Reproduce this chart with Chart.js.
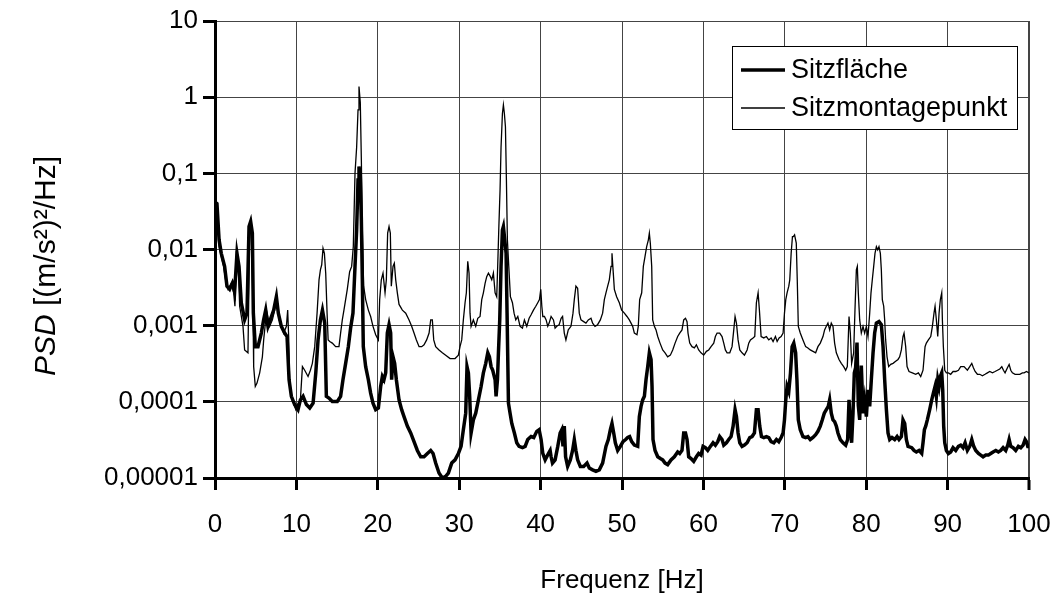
<!DOCTYPE html>
<html>
<head>
<meta charset="utf-8">
<script src="https://cdn.jsdelivr.net/npm/chart.js@4.4.1/dist/chart.umd.min.js"></script>
<style>
  body { margin: 0; background: #fff; }
  #wrap { width: 1059px; height: 602px; }
</style>
</head>
<body>
<div id="wrap"><canvas id="psd" width="1059" height="602"></canvas></div>
<script>
// Sitzfläche (dicke Linie)
const freqSitz = [
  0, 0.24, 0.5, 0.77, 1.18, 1.47, 1.8, 2.13, 2.41, 2.7, 2.95, 3.23, 3.64, 3.93, 4.18, 4.38, 4.59, 4.71, 4.95, 5.28,
  5.69, 5.98, 6.23, 6.51, 6.8, 7.21, 7.54, 7.78, 8.15, 8.56, 8.85, 9.1, 9.38, 9.79, 10.2, 10.49, 10.82, 11.23, 11.64, 12.05,
  12.38, 12.66, 12.95, 13.2, 13.48, 13.68, 14.0, 14.41, 15.02, 15.43, 15.72, 16.05, 16.38, 16.66, 16.95, 17.2, 17.4, 17.57, 17.69, 17.85,
  17.98, 18.1, 18.22, 18.51, 18.84, 19.12, 19.41, 19.74, 20.07, 20.35, 20.56, 20.76, 20.97, 21.17, 21.38, 21.58, 21.7, 21.87, 22.07, 22.28,
  22.61, 22.93, 23.22, 23.63, 24.04, 24.45, 24.86, 25.27, 25.68, 26.09, 26.5, 26.79, 27.11, 27.52, 27.93, 28.34, 28.67, 29.08, 29.49, 29.9,
  30.23, 30.51, 30.8, 30.96, 31.13, 31.29, 31.46, 31.74, 32.03, 32.36, 32.69, 32.97, 33.26, 33.51, 33.71, 33.92, 34.12, 34.41, 34.53, 34.7,
  34.82, 34.98, 35.14, 35.31, 35.43, 35.6, 35.76, 35.88, 36.05, 36.25, 36.46, 36.78, 37.07, 37.36, 37.77, 38.1, 38.42, 38.83, 39.16, 39.53,
  39.82, 40.06, 40.27, 40.56, 40.76, 40.96, 41.17, 41.29, 41.46, 41.78, 42.11, 42.4, 42.6, 42.75, 42.91, 43.07, 43.32, 43.65, 43.93, 44.14,
  44.34, 44.55, 44.88, 45.29, 45.7, 45.98, 46.39, 46.8, 47.21, 47.62, 48.03, 48.32, 48.57, 48.77, 48.98, 49.18, 49.47, 49.8, 50.12, 50.45,
  50.7, 50.94, 51.19, 51.52, 51.93, 52.13, 52.34, 52.54, 52.75, 52.95, 53.16, 53.36, 53.57, 53.69, 53.81, 54.06, 54.39, 54.71, 55.0, 55.29,
  55.61, 56.02, 56.43, 56.84, 57.09, 57.37, 57.58, 57.8, 57.99, 58.19, 58.48, 58.81, 59.14, 59.42, 59.71, 59.96, 60.24, 60.53, 60.86, 61.19,
  61.47, 61.76, 62.0, 62.29, 62.5, 62.83, 63.11, 63.4, 63.65, 63.89, 64.06, 64.26, 64.47, 64.75, 65.04, 65.37, 65.7, 65.98, 66.27, 66.51,
  66.72, 66.92, 67.13, 67.42, 67.74, 68.03, 68.32, 68.65, 68.97, 69.26, 69.55, 69.79, 69.96, 70.12, 70.28, 70.49, 70.7, 70.9, 71.1, 71.33,
  71.49, 71.66, 71.9, 72.23, 72.56, 72.84, 73.13, 73.46, 73.79, 74.07, 74.36, 74.61, 74.85, 75.1, 75.34, 75.51, 75.71, 75.92, 76.12, 76.33,
  76.53, 76.82, 77.15, 77.48, 77.72, 77.89, 78.05, 78.21, 78.38, 78.54, 78.7, 78.87, 79.03, 79.2, 79.4, 79.61, 79.81, 80.02, 80.22, 80.43,
  80.63, 80.84, 81.04, 81.25, 81.57, 81.86, 82.07, 82.27, 82.48, 82.68, 82.89, 83.17, 83.5, 83.79, 84.03, 84.32, 84.52, 84.73, 84.93, 85.14,
  85.59, 85.87, 86.16, 86.49, 86.82, 86.98, 87.15, 87.31, 87.51, 87.8, 88.05, 88.25, 88.46, 88.62, 88.79, 88.95, 89.11, 89.28, 89.4, 89.52,
  89.65, 89.85, 90.1, 90.38, 90.67, 91.0, 91.33, 91.61, 91.9, 92.15, 92.43, 92.72, 92.97, 93.21, 93.46, 93.79, 94.07, 94.36, 94.69, 95.01,
  95.3, 95.59, 95.92, 96.24, 96.53, 96.82, 97.14, 97.39, 97.56, 97.76, 98.05, 98.37, 98.7, 98.99, 99.28, 99.52, 99.69, 99.85, 100
];
const psdSitz = [
  0.042, 0.040, 0.0134, 0.0089, 0.0060, 0.0033, 0.0030, 0.0036, 0.0028, 0.0089, 0.0060, 0.0020, 0.0012, 0.00146, 0.020, 0.0233, 0.0164, 0.00146, 0.00053, 0.00053,
  0.0008, 0.0012, 0.0016, 0.00098, 0.0012, 0.0016, 0.0024, 0.00146, 0.00098, 0.0008, 0.00072, 0.000195, 0.000118, 0.000092, 0.000079, 0.000106, 0.000118, 0.000092, 0.000083, 0.000096,
  0.00024, 0.00065, 0.00119, 0.0016, 0.00108, 0.000118, 0.000112, 0.000101, 0.000101, 0.000118, 0.000195, 0.00032, 0.00053, 0.00093, 0.00146, 0.006, 0.018, 0.082, 0.123, 0.091,
  0.0245, 0.004, 0.00053, 0.00029, 0.000195, 0.00013, 0.000096, 0.000079, 0.000083, 0.000159, 0.000215, 0.000195, 0.00024, 0.0008, 0.00103, 0.0008, 0.000195, 0.00039, 0.00032, 0.000195,
  0.000106, 0.000079, 0.000064, 0.000048, 0.000039, 0.00003, 0.000023, 0.000019, 0.000019, 0.000021, 0.000023, 0.000021, 0.0000157, 0.0000116, 0.00001, 0.0000105, 0.0000116, 0.0000157, 0.0000173, 0.000021,
  0.000026, 0.000043, 0.000071, 0.00029, 0.00024, 0.000118, 0.000039, 0.000058, 0.000071, 0.000106, 0.000159, 0.00024, 0.00032, 0.00044, 0.00039, 0.00029, 0.00026, 0.000195, 0.000118, 0.000195,
  0.00044, 0.00119, 0.006, 0.018, 0.020, 0.0134, 0.0089, 0.00146, 0.000096, 0.000071, 0.000052, 0.000039, 0.000029, 0.000026, 0.000025, 0.000026, 0.000032, 0.000035, 0.000034, 0.000041,
  0.000043, 0.000032, 0.000021, 0.0000173, 0.000019, 0.000021, 0.000023, 0.000019, 0.0000157, 0.0000173, 0.000026, 0.000039, 0.000043, 0.000026, 0.000048, 0.000019, 0.0000142, 0.0000173, 0.000023, 0.000032,
  0.000023, 0.0000173, 0.0000142, 0.0000142, 0.0000157, 0.0000135, 0.0000128, 0.0000122, 0.0000128, 0.0000157, 0.000026, 0.000032, 0.000043, 0.000052, 0.000039, 0.000029, 0.000023, 0.000026, 0.00003, 0.000032,
  0.000034, 0.000035, 0.00003, 0.000027, 0.000026, 0.000064, 0.000087, 0.000106, 0.000118, 0.000195, 0.00029, 0.00044, 0.00036, 0.000159, 0.000032, 0.000023, 0.000019, 0.000018, 0.0000173, 0.0000157,
  0.000015, 0.0000173, 0.000019, 0.000022, 0.000021, 0.000023, 0.000039, 0.000039, 0.000032, 0.000019, 0.000018, 0.0000165, 0.000019, 0.000021, 0.00002, 0.000026, 0.000025, 0.000023, 0.000026, 0.000029,
  0.000027, 0.00003, 0.000035, 0.000032, 0.000027, 0.000029, 0.000032, 0.000035, 0.000048, 0.000079, 0.000064, 0.000039, 0.000029, 0.000026, 0.000027, 0.000029, 0.000034, 0.000035, 0.000039, 0.000079,
  0.000079, 0.000048, 0.000035, 0.000034, 0.000035, 0.000034, 0.00003, 0.000029, 0.000032, 0.00003, 0.000034, 0.000039, 0.000058, 0.000106, 0.000159, 0.000137, 0.00024, 0.00053, 0.00059, 0.00044,
  0.000195, 0.000058, 0.000043, 0.000035, 0.000034, 0.000035, 0.000032, 0.000034, 0.000037, 0.000041, 0.000048, 0.000058, 0.000071, 0.000079, 0.000087, 0.000106, 0.000071, 0.000058, 0.000055, 0.000048,
  0.000039, 0.000032, 0.000029, 0.000027, 0.000032, 0.000106, 0.000048, 0.000029, 0.000071, 0.00024, 0.00028, 0.0006, 0.00009, 0.000058, 0.0003, 0.000071, 0.000106, 0.000064, 0.000144, 0.000087,
  0.000195, 0.00044, 0.0008, 0.00108, 0.00113, 0.00103, 0.00053, 0.000195, 0.000079, 0.000039, 0.000032, 0.000034, 0.000032, 0.000035, 0.000032, 0.000035, 0.000058, 0.000052, 0.000032, 0.000026,
  0.000025, 0.000023, 0.000022, 0.000023, 0.000021, 0.000029, 0.000043, 0.000048, 0.000058, 0.000079, 0.000106, 0.00013, 0.000159, 0.000118, 0.000195, 0.000159, 0.000215, 0.00024, 0.000144, 0.000048,
  0.000029, 0.000023, 0.000021, 0.000022, 0.000025, 0.000023, 0.000026, 0.000027, 0.000025, 0.000029, 0.000023, 0.000026, 0.000032, 0.000026, 0.000023, 0.000021, 0.00002, 0.000019, 0.00002, 0.00002,
  0.000021, 0.000022, 0.000023, 0.000022, 0.000023, 0.000025, 0.000023, 0.000027, 0.000032, 0.000026, 0.000025, 0.000023, 0.000026, 0.000025, 0.000027, 0.000032, 0.00003, 0.000026, 0.000026
];

// Sitzmontagepunkt (dünne Linie)
const freqMontage = [
  0, 0.24, 0.5, 0.77, 1.06, 1.3, 1.6, 2.0, 2.29, 2.45, 2.62, 2.82, 3.03, 3.44, 3.64, 4.05, 4.26, 4.5, 4.67, 4.75,
  4.95, 5.16, 5.49, 5.82, 5.98, 6.23, 6.39, 6.72, 7.05, 7.33, 7.54, 7.87, 8.15, 8.44, 8.77, 8.93, 9.05, 9.18, 9.5, 9.92,
  10.2, 10.49, 10.74, 11.02, 11.43, 11.72, 11.96, 12.25, 12.54, 12.78, 12.95, 13.11, 13.27, 13.44, 13.6, 13.77, 13.9, 14.1, 14.41, 14.82,
  15.23, 15.43, 15.64, 15.84, 16.25, 16.54, 16.79, 16.99, 17.2, 17.4, 17.57, 17.69, 17.85, 17.98, 18.1, 18.26, 18.51, 18.84, 19.12, 19.41,
  19.74, 20.07, 20.23, 20.43, 20.64, 20.89, 21.05, 21.21, 21.38, 21.54, 21.66, 21.87, 22.03, 22.2, 22.4, 22.61, 23.02, 23.43, 23.84, 24.16,
  24.45, 24.74, 25.07, 25.39, 25.68, 26.0, 26.3, 26.5, 26.7, 26.87, 27.11, 27.52, 27.93, 28.34, 28.88, 29.49, 29.9, 30.1, 30.31, 30.51,
  30.72, 30.88, 31.05, 31.21, 31.33, 31.46, 31.74, 32.03, 32.28, 32.56, 32.77, 32.97, 33.18, 33.38, 33.59, 33.83, 34.0, 34.2, 34.41, 34.61,
  34.74, 34.86, 35.02, 35.14, 35.31, 35.43, 35.55, 35.68, 35.8, 35.92, 36.09, 36.29, 36.54, 36.74, 36.95, 37.2, 37.48, 37.77, 38.01, 38.3,
  38.59, 38.83, 39.12, 39.41, 39.65, 39.86, 40.02, 40.15, 40.27, 40.47, 40.68, 40.88, 41.05, 41.29, 41.58, 41.78, 41.99, 42.28, 42.52, 42.7,
  42.91, 43.11, 43.4, 43.73, 43.98, 44.14, 44.34, 44.55, 44.75, 44.96, 45.29, 45.57, 45.86, 46.19, 46.39, 46.68, 47.0, 47.34, 47.62, 47.83,
  48.03, 48.24, 48.44, 48.65, 48.77, 48.93, 49.06, 49.34, 49.67, 49.96, 50.29, 50.61, 50.9, 51.11, 51.31, 51.52, 51.84, 52.0, 52.17, 52.42,
  52.62, 52.83, 53.03, 53.24, 53.36, 53.48, 53.65, 53.77, 53.98, 54.18, 54.39, 54.67, 55.0, 55.29, 55.61, 55.94, 56.23, 56.52, 56.84, 57.09,
  57.37, 57.58, 57.8, 57.99, 58.11, 58.32, 58.6, 58.89, 59.14, 59.42, 59.71, 60.04, 60.37, 60.65, 60.94, 61.27, 61.47, 61.68, 62.0, 62.29,
  62.5, 62.7, 62.91, 63.24, 63.52, 63.73, 63.89, 64.06, 64.26, 64.47, 64.75, 65.04, 65.37, 65.57, 65.78, 66.1, 66.31, 66.51, 66.72, 66.88,
  67.09, 67.42, 67.74, 68.03, 68.32, 68.56, 68.85, 69.06, 69.3, 69.55, 69.79, 69.96, 70.12, 70.28, 70.49, 70.61, 70.78, 70.94, 71.05, 71.2,
  71.41, 71.53, 71.66, 71.9, 72.23, 72.56, 72.84, 73.13, 73.46, 73.79, 74.07, 74.36, 74.69, 74.89, 75.1, 75.3, 75.51, 75.71, 75.92, 76.12,
  76.33, 76.66, 76.94, 77.23, 77.48, 77.68, 77.89, 78.05, 78.21, 78.46, 78.62, 78.79, 78.91, 79.03, 79.2, 79.4, 79.61, 79.81, 80.02, 80.22,
  80.43, 80.59, 80.75, 80.92, 81.08, 81.25, 81.41, 81.57, 81.74, 81.86, 81.98, 82.15, 82.27, 82.39, 82.56, 82.76, 83.01, 83.3, 83.62, 83.91,
  84.11, 84.32, 84.52, 84.65, 84.85, 85.02, 85.26, 85.67, 86.08, 86.41, 86.7, 86.98, 87.23, 87.39, 87.64, 87.93, 88.13, 88.33, 88.46, 88.62,
  88.79, 88.95, 89.11, 89.28, 89.36, 89.48, 89.65, 89.85, 90.1, 90.38, 90.67, 91.0, 91.33, 91.61, 92.02, 92.43, 92.72, 92.97, 93.17, 93.38,
  93.66, 93.95, 94.28, 94.6, 94.89, 95.18, 95.51, 95.83, 96.12, 96.41, 96.66, 96.86, 97.06, 97.35, 97.56, 97.76, 97.96, 98.29, 98.58, 98.87,
  99.19, 99.4, 99.69, 100
];
const psdMontage = [
  0.042, 0.040, 0.011, 0.0081, 0.006, 0.004, 0.003, 0.0036, 0.0027, 0.0018, 0.0089, 0.0081, 0.0018, 0.00098, 0.00048, 0.00044, 0.018, 0.019, 0.00146, 0.00029,
  0.000159, 0.000176, 0.00024, 0.00039, 0.00065, 0.00119, 0.00146, 0.00098, 0.00119, 0.0016, 0.0022, 0.00119, 0.00098, 0.0008, 0.00098, 0.0016, 0.00072, 0.000159, 0.000106, 0.000079,
  0.000096, 0.000106, 0.00029, 0.00026, 0.000215, 0.00026, 0.00032, 0.00053, 0.00146, 0.004, 0.0054, 0.0063, 0.0104, 0.0089, 0.0049, 0.00146, 0.00065, 0.00062, 0.00059, 0.00053,
  0.00053, 0.0008, 0.00119, 0.0016, 0.003, 0.0051, 0.006, 0.0109, 0.1, 0.22, 0.68, 1.38, 0.85, 0.15, 0.018, 0.0033, 0.0022, 0.0016, 0.00132, 0.00098,
  0.00076, 0.00065, 0.0022, 0.004, 0.0049, 0.0027, 0.004, 0.0164, 0.020, 0.0164, 0.0033, 0.006, 0.0066, 0.004, 0.0027, 0.0019, 0.0016, 0.00146, 0.00119, 0.00098,
  0.0008, 0.00065, 0.00053, 0.00053, 0.00056, 0.00065, 0.0008, 0.00119, 0.00119, 0.00065, 0.00053, 0.00048, 0.00044, 0.00041, 0.00037, 0.00037, 0.00041, 0.00053, 0.00065, 0.00119,
  0.002, 0.0027, 0.007, 0.0049, 0.00146, 0.00098, 0.00119, 0.00098, 0.00125, 0.00132, 0.0022, 0.0027, 0.0036, 0.0044, 0.0049, 0.0044, 0.004, 0.0049, 0.0027, 0.0024,
  0.0066, 0.018, 0.061, 0.22, 0.61, 0.79, 0.61, 0.41, 0.082, 0.0134, 0.006, 0.0024, 0.002, 0.00146, 0.00119, 0.00132, 0.00098, 0.00093, 0.00119, 0.00098,
  0.00125, 0.00139, 0.0016, 0.0018, 0.002, 0.0022, 0.003, 0.0018, 0.00132, 0.00132, 0.00119, 0.00098, 0.00108, 0.00132, 0.00119, 0.00093, 0.00098, 0.00103, 0.00125, 0.00132,
  0.0008, 0.00065, 0.00088, 0.00098, 0.00146, 0.0022, 0.0033, 0.0031, 0.00146, 0.00119, 0.00113, 0.00108, 0.00119, 0.00125, 0.00108, 0.00098, 0.00103, 0.00119, 0.00146, 0.0022,
  0.0027, 0.0033, 0.004, 0.006, 0.0089, 0.0049, 0.003, 0.0024, 0.002, 0.0016, 0.00146, 0.00132, 0.00119, 0.00108, 0.00098, 0.0008, 0.00076, 0.00098, 0.0022, 0.0027,
  0.006, 0.0081, 0.0109, 0.0134, 0.0164, 0.0121, 0.006, 0.00119, 0.00098, 0.00088, 0.00072, 0.00059, 0.00048, 0.00044, 0.00039, 0.00041, 0.00048, 0.00059, 0.00072, 0.0008,
  0.00088, 0.00119, 0.00125, 0.00113, 0.0008, 0.00059, 0.00053, 0.00051, 0.00056, 0.00048, 0.00044, 0.00041, 0.00046, 0.00048, 0.00053, 0.00059, 0.00072, 0.0008, 0.0008, 0.00072,
  0.00059, 0.00048, 0.00044, 0.00044, 0.00053, 0.00088, 0.00132, 0.00108, 0.00065, 0.00048, 0.00044, 0.00041, 0.00048, 0.00059, 0.00065, 0.00069, 0.00072, 0.002, 0.0027, 0.0016,
  0.00072, 0.00069, 0.00072, 0.00065, 0.00069, 0.00062, 0.00072, 0.00062, 0.00069, 0.00072, 0.0008, 0.00146, 0.0022, 0.0027, 0.0033, 0.004, 0.0089, 0.0148, 0.0148, 0.0156,
  0.0121, 0.004, 0.00098, 0.0008, 0.00065, 0.00053, 0.00051, 0.00048, 0.00046, 0.00044, 0.00053, 0.00059, 0.00072, 0.00088, 0.00098, 0.00108, 0.00088, 0.00108, 0.00098, 0.00059,
  0.00044, 0.00036, 0.00032, 0.00029, 0.00026, 0.00029, 0.00132, 0.0008, 0.00032, 0.00044, 0.0016, 0.0054, 0.006, 0.0027, 0.00119, 0.0008, 0.00098, 0.0008, 0.00098, 0.00072,
  0.00146, 0.0027, 0.004, 0.006, 0.0089, 0.0109, 0.0099, 0.0109, 0.0089, 0.0054, 0.0022, 0.0018, 0.00119, 0.00065, 0.00039, 0.00029, 0.00031, 0.00032, 0.00034, 0.00036,
  0.00039, 0.00048, 0.00072, 0.0008, 0.00053, 0.00029, 0.00025, 0.00024, 0.00023, 0.00024, 0.000215, 0.00026, 0.00053, 0.00059, 0.00065, 0.00072, 0.00098, 0.00146, 0.0018, 0.00119,
  0.00072, 0.00146, 0.0022, 0.0027, 0.00119, 0.00053, 0.00026, 0.00024, 0.00024, 0.00023, 0.00025, 0.00025, 0.00026, 0.00029, 0.00029, 0.00026, 0.00029, 0.00032, 0.00028, 0.00025,
  0.00023, 0.00023, 0.00022, 0.00023, 0.00024, 0.00025, 0.00024, 0.00025, 0.00026, 0.00027, 0.00029, 0.00026, 0.00024, 0.00028, 0.00031, 0.00026, 0.00024, 0.00023, 0.00023, 0.00023,
  0.00024, 0.00024, 0.00025, 0.00024
];

const seriesNames = ['Sitzfläche', 'Sitzmontagepunkt'];
const yTickValues = [0.00001, 0.0001, 0.001, 0.01, 0.1, 1, 10];
const yTickLabels = ['0,00001', '0,0001', '0,001', '0,01', '0,1', '1', '10'];

const FONT = '"Liberation Sans", Arial, sans-serif';

function toPoints(xs, ys) {
  return xs.map((x, i) => ({ x: x, y: ys[i] }));
}

// Achsentitel und Legende selbst zeichnen
const textPlugin = {
  id: 'texts',
  afterDraw(chart) {
    const ctx = chart.ctx;
    const area = chart.chartArea;
    ctx.save();
    ctx.fillStyle = '#000';

    // x-Achsentitel
    ctx.font = '26px ' + FONT;
    ctx.textAlign = 'center';
    ctx.textBaseline = 'middle';
    ctx.fillText('Frequenz [Hz]', (area.left + area.right) / 2, 581);

    // y-Achsentitel, "PSD" kursiv
    ctx.save();
    ctx.translate(47, 266);
    ctx.rotate(-Math.PI / 2);
    const partA = 'PSD';
    const partB = ' [(m/s²)²/Hz]';
    ctx.font = 'italic 30px ' + FONT;
    const wa = ctx.measureText(partA).width;
    ctx.font = '30px ' + FONT;
    const wb = ctx.measureText(partB).width;
    ctx.textAlign = 'left';
    ctx.font = 'italic 30px ' + FONT;
    ctx.fillText(partA, -(wa + wb) / 2, 0);
    ctx.font = '30px ' + FONT;
    ctx.fillText(partB, -(wa + wb) / 2 + wa, 0);
    ctx.restore();

    // Legende
    const lx = 732, ly = 46, lw = 285, lh = 83;
    ctx.fillStyle = '#fff';
    ctx.fillRect(lx, ly, lw, lh);
    ctx.strokeStyle = '#000';
    ctx.lineWidth = 1;
    ctx.strokeRect(lx + 0.5, ly + 0.5, lw, lh);

    const rows = [
      { y: 70, w: chart.data.datasets[0].borderWidth },
      { y: 108, w: chart.data.datasets[1].borderWidth }
    ];
    ctx.font = '27px ' + FONT;
    ctx.textAlign = 'left';
    ctx.textBaseline = 'middle';
    rows.forEach((r, i) => {
      ctx.beginPath();
      ctx.lineWidth = r.w;
      ctx.moveTo(741, r.y);
      ctx.lineTo(785, r.y);
      ctx.stroke();
      ctx.fillStyle = '#000';
      ctx.fillText(seriesNames[i], 791, r.y + 1);
    });
    ctx.restore();
  }
};

const ctx = document.getElementById('psd').getContext('2d');
new Chart(ctx, {
  type: 'line',
  data: {
    datasets: [{
      label: seriesNames[0],
      data: toPoints(freqSitz, psdSitz),
      borderColor: '#000',
      borderWidth: 3.5,
      pointRadius: 0,
      tension: 0,
      fill: false
    }, {
      label: seriesNames[1],
      data: toPoints(freqMontage, psdMontage),
      borderColor: '#000',
      borderWidth: 1.3,
      pointRadius: 0,
      tension: 0,
      fill: false
    }]
  },
  options: {
    responsive: false,
    animation: false,
    layout: { padding: { top: 21, right: 30, left: 0, bottom: 0 } },
    plugins: {
      legend: { display: false },
      tooltip: { enabled: false }
    },
    scales: {
      x: {
        type: 'linear',
        min: 0,
        max: 100,
        ticks: {
          stepSize: 10,
          maxRotation: 0,
          color: '#000',
          padding: 6,
          font: { family: FONT, size: 26, lineHeight: 2.2 }
        },
        grid: {
          color: '#444',
          lineWidth: c => (c.tick && c.tick.value === 100 ? 2 : 1),
          tickLength: 12,
          tickWidth: 3,
          tickColor: '#000'
        },
        border: { color: '#000', width: 3 },
        afterFit: s => { s.height = 124; }
      },
      y: {
        type: 'logarithmic',
        min: 0.00001,
        max: 10,
        afterBuildTicks: s => { s.ticks = yTickValues.map(v => ({ value: v })); },
        ticks: {
          color: '#000',
          padding: 5,
          font: { family: FONT, size: 26 },
          callback: (v, i) => yTickLabels[i]
        },
        grid: {
          color: '#444',
          lineWidth: 1,
          tickLength: 12,
          tickWidth: 3,
          tickColor: '#000'
        },
        border: { color: '#000', width: 3 },
        afterFit: s => { s.width = 215; }
      }
    }
  },
  plugins: [textPlugin]
});
</script>
</body>
</html>
